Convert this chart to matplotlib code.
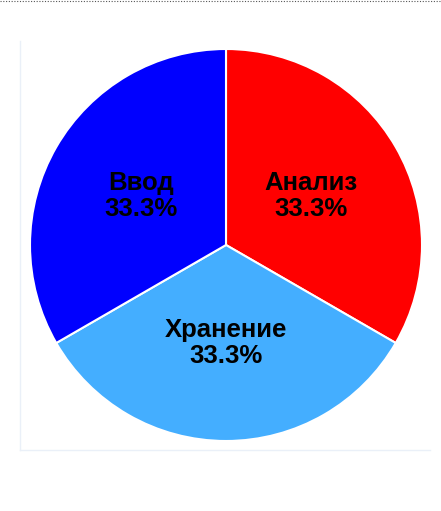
import matplotlib.pyplot as plt
from matplotlib.lines import Line2D

labels = ['Анализ', 'Хранение', 'Ввод']
values = [1, 1, 1]
colors = ['#FF0000', '#44AEFF', '#0000FF']

fig = plt.figure(figsize=(4.41, 5.11), dpi=100)

# frame lines (dotted top, light box left/bottom)
fig.add_artist(Line2D([0, 1], [1 - 1.5/511, 1 - 1.5/511], color='#555555', ls=(0, (1, 1.5)), lw=0.8))
fig.add_artist(Line2D([20/441, 20/441], [1 - 41/511, 1 - 450/511], color='#EAF0F8', lw=1))
fig.add_artist(Line2D([20/441, 430/441], [1 - 450/511, 1 - 450/511], color='#EAF0F8', lw=1))

ax = fig.add_axes([30/441, 70/511, 392/441, 392/511])
total = sum(values)
wedges, texts = ax.pie(values, colors=colors, startangle=90, counterclock=False,
                       labels=[f'{l}\n{v/total*100:.1f}%' for l, v in zip(labels, values)],
                       labeldistance=0.5,
                       wedgeprops=dict(edgecolor='white', linewidth=1.5),
                       textprops=dict(fontsize=18.5, fontweight='bold', family='Liberation Sans',
                                      ha='center', va='center', linespacing=1.1))
ax.set_xlim(-1.0, 1.0)
ax.set_ylim(-1.0, 1.0)
ax.set_aspect('equal')
ax.axis('off')

fig.savefig('out.png', dpi=100)
